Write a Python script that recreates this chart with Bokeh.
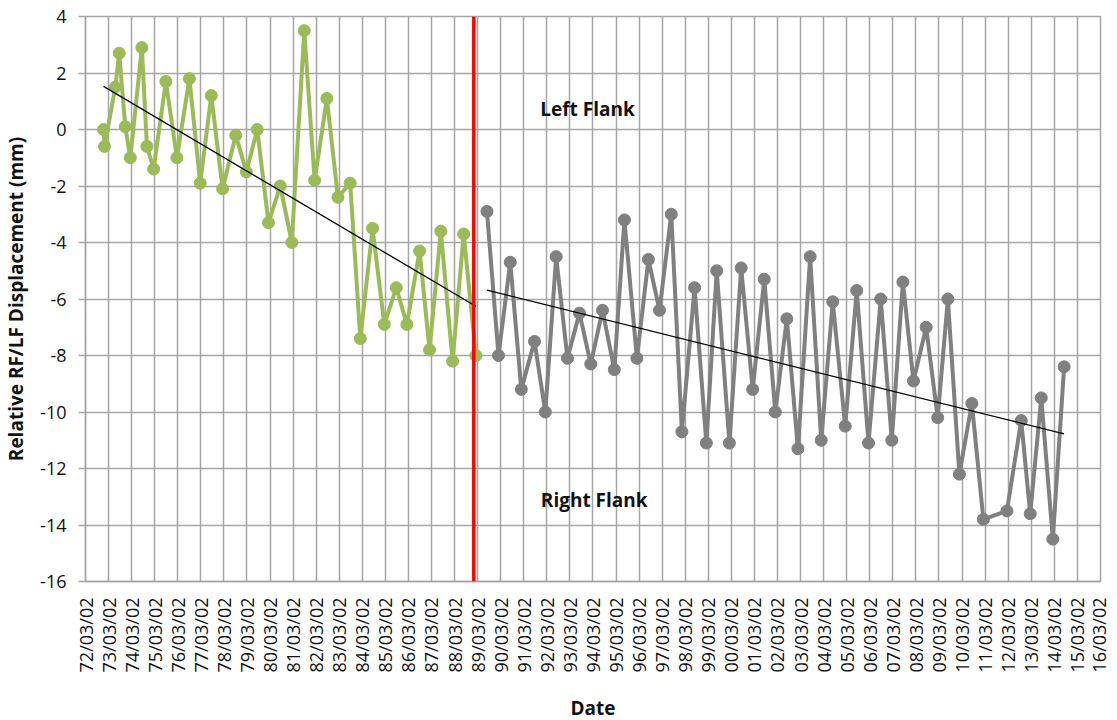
import math
import datetime as dt
import numpy as np
from bokeh.plotting import figure
from bokeh.models import Range1d, FixedTicker, Span
from bokeh.core.properties import value
from bokeh.embed import file_html
from bokeh.resources import INLINE

# ---- data (decimal years, displacement in mm) ----
left_years = [1972.95, 1972.99, 1973.46, 1973.63, 1973.89, 1974.11, 1974.61, 1974.83,
              1975.12, 1975.65, 1976.13, 1976.67, 1977.14, 1977.62, 1978.11, 1978.68,
              1979.14, 1979.61, 1980.10, 1980.61, 1981.11, 1981.65, 1982.10, 1982.63,
              1983.11, 1983.64, 1984.08, 1984.61, 1985.12, 1985.64, 1986.10, 1986.65,
              1987.08, 1987.57, 1988.08, 1988.56, 1989.09]
left_disp = [0.0, -0.6, 1.5, 2.7, 0.1, -1.0, 2.9, -0.6,
             -1.4, 1.7, -1.0, 1.8, -1.9, 1.2, -2.1, -0.2,
             -1.5, 0.0, -3.3, -2.0, -4.0, 3.5, -1.8, 1.1,
             -2.4, -1.9, -7.4, -3.5, -6.9, -5.6, -6.9, -4.3,
             -7.8, -3.6, -8.2, -3.7, -8.0]

right_years = [1989.57, 1990.07, 1990.58, 1991.06, 1991.63, 1992.10, 1992.57, 1993.06,
               1993.58, 1994.07, 1994.58, 1995.09, 1995.53, 1996.07, 1996.57, 1997.05,
               1997.56, 1998.02, 1998.57, 1999.08, 1999.53, 2000.08, 2000.59, 2001.09,
               2001.59, 2002.07, 2002.57, 2003.05, 2003.58, 2004.06, 2004.56, 2005.10,
               2005.60, 2006.11, 2006.64, 2007.12, 2007.60, 2008.06, 2008.61, 2009.11,
               2009.55, 2010.05, 2010.59, 2011.09, 2012.11, 2012.73, 2013.12, 2013.60,
               2014.10, 2014.59]
right_disp = [-2.9, -8.0, -4.7, -9.2, -7.5, -10.0, -4.5, -8.1,
              -6.5, -8.3, -6.4, -8.5, -3.2, -8.1, -4.6, -6.4,
              -3.0, -10.7, -5.6, -11.1, -5.0, -11.1, -4.9, -9.2,
              -5.3, -10.0, -6.7, -11.3, -4.5, -11.0, -6.1, -10.5,
              -5.7, -11.1, -6.0, -11.0, -5.4, -8.9, -7.0, -10.2,
              -6.0, -12.2, -9.7, -13.8, -13.5, -10.3, -13.6, -9.5,
              -14.5, -8.4]

tick_labels = ["%02d/03/02" % (y % 100) for y in range(1972, 2017)]
y_ticks = [4, 2, 0, -2, -4, -6, -8, -10, -12, -14, -16]
y_tick_labels = ["4", "2", "0", "-2", "-4", "-6", "-8", "-10", "-12", "-14", "-16"]
flank_change_year = 1989.0

note_text = ["Left Flank", "Right Flank"]
note_x = [1993.93, 1994.22]
note_y = [0.73, -13.1]


def label_to_year(lbl):
    yy, mm, dd = (int(s) for s in lbl.split("/"))
    year = (1900 if yy >= 50 else 2000) + yy
    doy = (dt.date(year, mm, dd) - dt.date(year, 1, 1)).days
    return round(year + doy / 365.25, 4)


tick_pos = [label_to_year(l) for l in tick_labels]

GREEN = "#9BBB59"
GRAY = "#808080"
GRID = "#A6A6A6"
FONT = "Open Sans"

p = figure(frame_width=1015, frame_height=565,
           x_range=Range1d(tick_pos[0], tick_pos[-1]), y_range=Range1d(-16, 4),
           output_backend="svg", toolbar_location=None,
           min_border_left=82, min_border_right=10, min_border_top=16, min_border_bottom=128)
p.background_fill_color = "white"
p.outline_line_color = GRID
p.outline_line_width = 1.5

# grid
p.grid.grid_line_color = GRID
p.grid.grid_line_width = 1.5

# x axis
p.xaxis.ticker = FixedTicker(ticks=tick_pos)
p.xaxis.major_label_overrides = dict(zip(tick_pos, tick_labels))
p.xaxis.major_label_orientation = math.pi / 2
p.xaxis.major_tick_out = 0
p.xaxis.major_tick_in = 0
p.xaxis.minor_tick_out = 0
p.xaxis.minor_tick_in = 0
p.xaxis.axis_line_color = GRID
p.xaxis.axis_line_width = 1.5
p.xaxis.major_label_standoff = 16
p.xaxis.axis_label = "Date"
p.xaxis.axis_label_standoff = 20

# y axis
p.yaxis.ticker = FixedTicker(ticks=y_ticks)
p.yaxis.major_label_overrides = dict(zip(y_ticks, y_tick_labels))
p.yaxis.major_tick_out = 7
p.yaxis.major_tick_in = 0
p.yaxis.minor_tick_out = 0
p.yaxis.minor_tick_in = 0
p.yaxis.major_tick_line_color = GRID
p.yaxis.major_tick_line_width = 1.5
p.yaxis.axis_line_color = GRID
p.yaxis.axis_line_width = 1.5
p.yaxis.major_label_standoff = 12
p.yaxis.axis_label = "Relative RF/LF Displacement (mm)"
p.yaxis.axis_label_standoff = 8

for ax in (p.xaxis[0], p.yaxis[0]):
    ax.major_label_text_font = FONT
    ax.major_label_text_font_size = "18px"
    ax.major_label_text_color = "#111111"
    ax.axis_label_text_font = FONT
    ax.axis_label_text_font_size = "19px"
    ax.axis_label_text_font_style = "bold"
    ax.axis_label_text_color = "#111111"

# series
p.line(left_years, left_disp, line_color=GREEN, line_width=4)
p.scatter(left_years, left_disp, size=12, fill_color=GREEN, line_color=GREEN)
p.line(right_years, right_disp, line_color=GRAY, line_width=4)
p.scatter(right_years, right_disp, size=12, fill_color=GRAY, line_color=GRAY)

# linear trends
for xs, ys in ((left_years, left_disp), (right_years, right_disp)):
    coef = np.polyfit(xs, ys, 1)
    tx = [min(xs), max(xs)]
    p.line(tx, list(np.polyval(coef, tx)), line_color="black", line_width=1.3)

# flank change marker
p.add_layout(Span(location=flank_change_year, dimension="height",
                  line_color="#FF0000", line_width=3.5))

p.text(x=note_x, y=note_y, text=note_text, text_font=value(FONT),
       text_font_style="bold", text_font_size="19px", text_color="#111111",
       text_align="center", text_baseline="middle")

open("out.html", "w").write(file_html(p, INLINE))
